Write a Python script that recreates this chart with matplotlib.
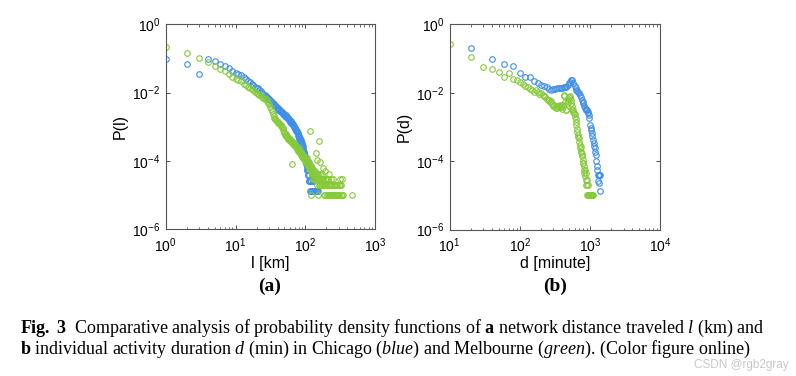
import numpy as np
import matplotlib
matplotlib.use("Agg")
import matplotlib.pyplot as plt
from matplotlib.ticker import LogLocator, NullLocator, NullFormatter

plt.rcParams['font.family'] = ['Liberation Sans', 'DejaVu Sans']
plt.rcParams['mathtext.default'] = 'regular'
plt.rcParams['mathtext.fontset'] = 'custom'
plt.rcParams['mathtext.rm'] = 'Liberation Serif'
plt.rcParams['mathtext.it'] = 'Liberation Serif:italic'
plt.rcParams['mathtext.bf'] = 'Liberation Serif:bold'

# ---------------- Panel (a): network distance l [km] ----------------
# values are log10 P(l)
chicago_l = [1, 2, 3, 4, 5, 6, 7, 8, 9, 10, 11, 12, 13, 14, 15, 16, 17, 18, 19, 20,
             21, 22, 23, 24, 25, 26, 27, 28, 29, 30, 31, 32, 33, 34, 35, 36, 37, 38, 39, 40,
             41, 42, 43, 44, 45, 46, 47, 48, 49, 50, 51, 52, 53, 54, 55, 56, 57, 58, 59, 60,
             61, 62, 63, 64, 65, 66, 67, 68, 69, 70, 71, 72, 73, 74, 75, 76, 77, 78, 79, 80,
             81, 82, 83, 84, 85, 86, 87, 88, 89, 90, 91, 92, 93, 94, 95, 96, 97, 98, 99, 100,
             101, 102, 103, 104, 105, 106, 107, 108, 109, 110, 111, 112, 113, 114, 115, 116,
             118, 120, 121, 123, 125, 127, 128, 130, 133, 136, 140, 145, 150]
chicago_logp_l = [-1.01, -1.17, -1.46, -1.02, -1.07, -1.17, -1.22, -1.29, -1.36, -1.42,
                  -1.46, -1.50, -1.55, -1.60, -1.66, -1.70, -1.74, -1.78, -1.83, -1.86,
                  -1.88, -1.93, -1.96, -2.00, -2.04, -2.06, -2.10, -2.13, -2.16, -2.20,
                  -2.22, -2.26, -2.28, -2.31, -2.34, -2.37, -2.40, -2.40, -2.44, -2.46,
                  -2.50, -2.49, -2.53, -2.55, -2.57, -2.56, -2.61, -2.62, -2.64, -2.66,
                  -2.68, -2.67, -2.71, -2.73, -2.72, -2.76, -2.78, -2.77, -2.81, -2.83,
                  -2.85, -2.84, -2.88, -2.90, -2.93, -2.92, -2.96, -2.99, -3.01, -3.04,
                  -3.03, -3.08, -3.10, -3.13, -3.12, -3.17, -3.20, -3.22, -3.26, -3.28,
                  -3.30, -3.35, -3.32, -3.40, -3.38, -3.45, -3.50, -3.48, -3.55, -3.60,
                  -3.58, -3.66, -3.70, -3.75, -3.80, -3.78, -3.85, -3.90, -3.95, -3.92,
                  -4.00, -4.05, -4.10, -4.00, -4.19, -4.28, -4.28, -4.41, -4.28, -4.41,
                  -4.59, -4.41, -4.59, -4.28, -4.59, -4.89,
                  -4.59, -4.59, -4.89, -4.41, -4.89, -4.59, -4.89, -4.59, -4.89, -4.89,
                  -4.89, -4.89, -4.89]

melbourne_l = [1, 2, 3, 4, 5, 6, 7, 8, 9, 10, 11, 12, 13, 14, 15, 16, 17, 18, 19, 20,
               21, 22, 23, 24, 25, 26, 27, 28, 29, 30, 31, 32, 33, 34, 35, 36, 37, 38, 39, 40,
               41, 42, 43, 44, 45, 46, 47, 48, 49, 50, 51, 52, 53, 54, 55, 56, 57, 58, 59, 60,
               61, 62, 63, 64, 65, 66, 67, 68, 69, 70, 71, 72, 73, 74, 75, 76, 77, 78, 79, 80,
               81, 82, 83, 84, 85, 86, 87, 88, 89, 90, 91, 92, 93, 94, 95, 96, 97, 98, 99, 100,
               101, 102, 103, 104, 105, 106, 107, 108, 109, 110, 111, 112, 113, 114, 115, 116,
               117, 118, 119, 120, 121, 122, 123, 124, 125, 126, 127, 128, 129, 130, 132, 133,
               134, 135, 137, 138, 140, 141, 142, 144, 145, 146, 147, 148, 150, 152, 153, 155,
               157, 158, 160, 161, 162, 164, 166, 168, 170, 172, 175, 176, 178, 180, 183, 185,
               188, 190, 191, 193, 195, 198, 200, 202, 205, 208, 210, 212, 215, 218, 220, 222,
               225, 228, 230, 233, 236, 240, 243, 246, 250, 254, 258, 262, 266, 270, 275, 280,
               285, 290, 296, 300, 305, 310, 315, 320, 326, 332, 338, 345, 468]
melbourne_logp_l = [-0.665, -0.83, -0.98, -1.10, -1.21, -1.30, -1.38, -1.47, -1.54, -1.61,
                    -1.64, -1.67, -1.74, -1.78, -1.83, -1.86, -1.90, -1.93, -1.97, -2.00,
                    -2.03, -2.06, -2.08, -2.12, -2.15, -2.18, -2.20, -2.24, -2.30, -2.35,
                    -2.42, -2.48, -2.55, -2.62, -2.70, -2.75, -2.78, -2.80, -2.83, -2.85,
                    -2.88, -2.90, -2.93, -2.95, -2.98, -3.02, -3.05, -3.10, -3.15, -3.20,
                    -3.25, -3.22, -3.28, -3.30, -3.27, -3.32, -3.35, -3.33, -3.38, -3.36,
                    -3.40, -3.42, -3.45, -3.43, -4.10, -3.48, -3.50, -3.47, -3.53, -3.55,
                    -3.52, -3.58, -3.60, -3.57, -3.62, -3.65, -3.60, -3.68, -3.70, -3.66,
                    -3.72, -3.75, -3.70, -3.78, -3.80, -3.74, -3.82, -3.85, -3.79, -3.88,
                    -3.82, -3.90, -3.92, -3.85, -3.95, -3.88, -3.97, -3.92, -4.00, -3.96,
                    -3.96, -4.00, -4.05, -3.92, -4.00, -4.10, -4.05, -4.15, -4.00, -4.10,
                    -4.05, -4.15, -4.22, -4.10, -4.15, -4.22,
                    -3.13, -4.22, -4.30, -4.15, -5.00, -4.30, -4.22, -4.40, -4.30, -4.22,
                    -4.40, -4.30, -4.52, -4.40, -4.30, -4.52,
                    -4.40, -4.52, -4.40, -4.30, -4.52, -3.76, -4.40, -4.52, -3.98, -4.40,
                    -4.70, -4.52, -4.40, -5.00, -4.52, -4.70,
                    -3.42, -4.52, -4.05, -4.40, -4.70, -4.52, -4.70, -4.52, -4.40, -4.70,
                    -4.52, -4.22, -4.70, -4.52, -4.70, -5.00,
                    -4.52, -4.70, -4.30, -5.00, -4.70, -4.52, -4.70, -4.52, -5.00, -4.70,
                    -5.00, -4.52, -4.70, -5.00, -4.40, -5.00,
                    -4.70, -5.00, -4.52, -5.00, -4.70, -5.00, -4.70, -4.52, -5.00, -4.70,
                    -5.00, -4.70, -5.00, -5.00, -4.70, -5.00,
                    -4.70, -5.00, -5.00, -4.70, -5.00, -4.52, -4.70, -5.00, -4.70, -5.00,
                    -4.52, -5.00, -5.00]

# ---------------- Panel (b): activity duration d [minute] ----------------
chicago_d = [20, 40, 60, 80, 100, 120, 140, 160, 180, 200, 220, 240, 260, 280, 300, 320,
             340, 360, 380, 400, 420, 440, 460, 480, 500, 520, 540, 560, 580, 600, 620, 640,
             660, 680, 700, 720, 740, 760, 780, 800, 820, 840, 860, 880, 900, 920, 940, 960,
             980, 1000, 1020, 1040, 1060, 1080, 1100, 1120, 1140, 1160, 1180, 1200, 1220,
             1240, 1260, 1280, 1300, 1320, 1340, 1360, 1380, 1400]
chicago_logp_d = [-0.70, -1.00, -1.15, -1.21, -1.41, -1.53, -1.55, -1.67, -1.72, -1.78,
                  -1.80, -1.84, -1.88, -1.92, -1.90, -1.90, -1.87, -1.86, -1.87, -1.85,
                  -1.84, -1.84, -1.82, -1.78, -1.73, -1.68, -1.64, -1.62, -1.72, -1.80,
                  -1.86, -1.92, -1.95, -1.97, -2.02, -2.06, -2.12, -2.21, -2.26, -2.30,
                  -2.40, -2.45, -2.47, -2.50, -2.52, -2.55, -2.60, -2.65, -2.75, -2.94,
                  -3.03, -3.10, -3.18, -3.28, -3.38, -3.47, -3.55, -3.62, -3.72, -3.81,
                  -4.00, -4.15, -4.25, -4.59, -4.40, -4.64, -4.40, -4.40, -4.40, -4.88]

melbourne_d = [10, 20, 30, 40, 50, 60, 70, 80, 90, 100, 110, 120, 130, 140, 150, 160, 170,
               180, 190, 200, 210, 220, 230, 240, 250, 260, 270, 280, 290, 300, 310, 320, 330,
               340, 350, 360, 370, 380, 390, 400, 410, 420, 430, 440, 450, 460, 470, 480, 490,
               500, 510, 520, 530, 540, 550, 560, 570, 580, 590, 600, 610, 620, 630, 640, 650,
               660, 670, 680, 690, 700, 710, 720, 730, 740, 750, 760, 770, 780, 790, 800, 810,
               820, 830, 840, 850, 860, 870, 880, 890, 900, 910, 920, 930, 940, 960, 980, 1000,
               1020, 1040, 1060, 1080, 1100]
melbourne_logp_d = [-0.575, -0.95, -1.24, -1.30, -1.39, -1.55, -1.43, -1.60, -1.62, -1.70,
                    -1.74, -1.79, -1.82, -1.88, -1.92, -1.97, -1.92, -1.98, -2.03, -2.01,
                    -2.08, -2.10, -2.12, -2.18, -2.20, -2.22, -2.28, -2.24, -2.32, -2.38,
                    -2.35, -2.42, -2.46, -2.44, -2.38, -2.40, -2.36, -2.40, -2.42, -2.48,
                    -2.35, -2.06, -2.10, -2.28, -2.50, -2.52, -2.30, -2.25, -2.18, -2.12,
                    -2.10, -2.15, -2.21, -2.30, -2.40, -2.48, -2.55, -2.50, -2.58, -2.62,
                    -2.70, -2.78, -2.85, -2.95, -3.05, -3.15, -3.25, -3.30, -3.33, -3.45,
                    -3.52, -3.62, -3.60, -3.72, -3.72, -3.86, -3.80, -3.96, -4.05, -4.05,
                    -4.15, -4.25, -4.35, -4.25, -4.45, -4.35, -4.54, -4.69, -4.54, -4.69,
                    -5.00, -4.69, -5.00, -5.00, -5.00, -5.00, -5.00, -5.00, -5.00, -5.00,
                    -5.00, -5.00]

blue = '#3f8ee8'
green = '#86c93a'

fig = plt.figure(figsize=(7.96, 3.76), dpi=100)
W, H = 796.0, 376.0


def make_ax(x0, x1, y0, y1):
    return fig.add_axes([x0 / W, 1 - y1 / H, (x1 - x0) / W, (y1 - y0) / H])


ax_a = make_ax(165.7, 375.3, 24.3, 229.0)
ax_b = make_ax(449.7, 660.3, 24.3, 229.5)

mk = dict(marker='o', linestyle='none', markersize=4.0, markerfacecolor='none',
          markeredgewidth=0.8)

ax_a.plot(chicago_l, 10 ** np.array(chicago_logp_l), color=blue, **mk)
ax_a.plot(melbourne_l, 10 ** np.array(melbourne_logp_l), color=green, **mk)
ax_b.plot(chicago_d, 10 ** np.array(chicago_logp_d), color=blue, **mk)
ax_b.plot(melbourne_d, 10 ** np.array(melbourne_logp_d), color=green, **mk)

for ax, xlim, xticks in [(ax_a, (1, 1000), [1, 10, 100, 1000]),
                         (ax_b, (10, 10000), [10, 100, 1000, 10000])]:
    ax.set_xscale('log')
    ax.set_yscale('log')
    ax.set_xlim(*xlim)
    ax.set_ylim(1e-6, 1)
    ax.set_xticks(xticks)
    ax.set_yticks([1e-6, 1e-4, 1e-2, 1])
    ax.xaxis.set_minor_locator(LogLocator(base=10, subs=np.arange(2, 10)))
    ax.xaxis.set_minor_formatter(NullFormatter())
    ax.yaxis.set_minor_locator(NullLocator())
    ax.tick_params(which='both', direction='in', top=True, right=True,
                   labelsize=10, colors='#333333', labelcolor='black')
    ax.tick_params(axis='x', which='major', pad=5)
    ax.tick_params(axis='y', which='major', pad=4)
    ax.tick_params(which='major', length=3, width=0.6)
    ax.tick_params(which='minor', length=1.8, width=0.5)
    for s in ax.spines.values():
        s.set_color('#555555')
        s.set_linewidth(0.8)

ax_a.set_xlabel('l [km]', fontsize=11.5, labelpad=1)
ax_a.set_ylabel('P(l)', fontsize=11.5, labelpad=3)
ax_b.set_xlabel('d [minute]', fontsize=11.5, labelpad=1)
ax_b.set_ylabel('P(d)', fontsize=11.5, labelpad=3)

serif = ['Liberation Serif', 'DejaVu Serif']
fig.text(270 / W, 1 - 286 / H, '(a)', fontsize=14, fontweight='bold', family=serif,
         ha='center', va='center')
fig.text(555 / W, 1 - 286 / H, '(b)', fontsize=14, fontweight='bold', family=serif,
         ha='center', va='center')

line1 = (r'$\mathbf{Fig.\ 3}$  Comparative analysis of probability density functions of '
         r'$\mathbf{a}$ network distance traveled $\mathit{l}$ (km) and')
line2 = (r'$\mathbf{b}$ individual activity duration $\mathit{d}$ (min) in Chicago '
         r'($\mathit{blue}$) and Melbourne ($\mathit{green}$). (Color figure online)')
fig.text(20 / W, 1 - 328 / H, line1, fontsize=13, family=serif, ha='left', va='center')
fig.text(20 / W, 1 - 349 / H, line2, fontsize=13, family=serif, ha='left', va='center')

fig.text(789 / W, 1 - 365 / H, 'CSDN @rgb2gray', fontsize=8.5, color='#c8c8c8',
         ha='right', va='center')

fig.savefig('out.png', dpi=100)
